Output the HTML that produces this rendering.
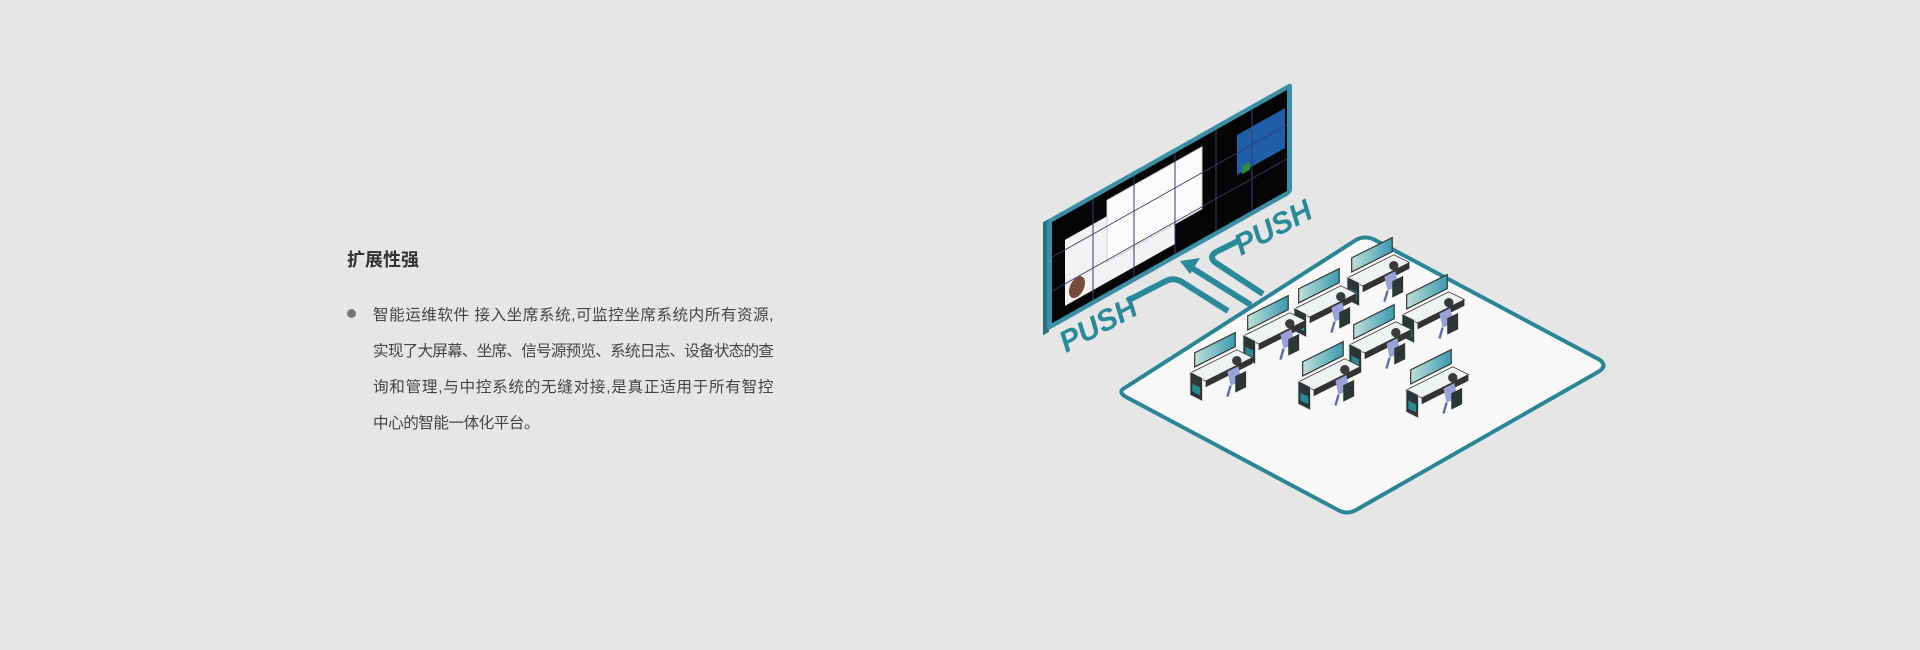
<!DOCTYPE html>
<html><head><meta charset="utf-8"><style>
html,body{margin:0;padding:0}
body{width:1920px;height:650px;background:#e6e6e6;position:relative;overflow:hidden;font-family:"Liberation Sans","Noto Sans CJK SC",sans-serif}
.t{position:absolute;left:347px;top:246px;font-size:18px;font-weight:bold;color:#333}
.b{position:absolute;left:373px;top:298px;width:400px;font-size:15.6px;line-height:36px;color:#444}
.b div{white-space:nowrap;text-align:justify;text-align-last:justify;letter-spacing:-0.5px}
.b div.l{text-align-last:left}
.b div.n{letter-spacing:-0.9px}
.dot{position:absolute;left:347px;top:309px;width:9px;height:9px;border-radius:50%;background:#777}
svg{position:absolute;left:0;top:0}
</style></head><body>
<div class="t">扩展性强</div>
<div class="dot"></div>
<div class="b"><div>智能运维软件 接入坐席系统,可监控坐席系统内所有资源,</div><div class="n">实现了大屏幕、坐席、信号源预览、系统日志、设备状态的查</div><div>询和管理,与中控系统的无缝对接,是真正适用于所有智控</div><div class="l">中心的智能一体化平台。</div></div>
<svg width="1920" height="650" viewBox="0 0 1920 650">
<defs>
<linearGradient id="mg" x1="0" x2="1"><stop offset="0" stop-color="#bfe0d8"/><stop offset="1" stop-color="#3a9ab0"/></linearGradient>
<g id="desk">
<polygon points="20,-18 80,-48 80,-40 20,-10" fill="#333"/>
<polygon points="0,-28 60,-58 80,-48 20,-18" fill="#eef2f2" stroke="#333" stroke-width="1"/>
<polygon points="6,-36 58,-62 58,-80 6,-54" fill="url(#mg)" stroke="#333" stroke-width="1.5"/>
<polygon points="0,-30 16,-22 16,8 0,0" fill="#2c3636" stroke="#ddd" stroke-width="1"/>
<rect x="3" y="-16" width="10" height="10" fill="#2a8a90" transform="skewY(26)"/>
<polygon points="48,-30 62,-37 66,-18 52,-12" fill="#9aa0d8"/>
<circle cx="60" cy="-44" r="6" fill="#3a3a3a"/>
<polygon points="58,-24 72,-31 72,-10 58,-3" fill="#2c3636"/>
<line x1="52" y1="-12" x2="48" y2="2" stroke="#5a6ab0" stroke-width="3"/>
</g>
</defs>
<path d="M1123,389 L1356,240 Q1365,235 1375,240 L1600,360 Q1608,366 1598,372 L1356,510 Q1347,515 1338,510 L1128,398 Q1118,393 1123,389 Z" fill="#f8f8f8" stroke="#2a8596" stroke-width="4"/>
<g transform="matrix(1,-0.563,0,1,1047,220)">
<rect x="-4" y="0" width="6" height="113" fill="#2a6f80"/>
<rect x="0" y="0" width="245" height="111" rx="4" fill="#3a8fa6"/>
<rect x="5" y="5" width="235" height="101" fill="#050505"/>
<rect x="18" y="30" width="110" height="66" fill="#f2f2f2"/>
<rect x="60" y="14" width="95" height="62" fill="#fafafa" stroke="#ccc"/>
<rect x="190" y="22" width="48" height="40" fill="#1f5fa8"/>
<rect x="195" y="56" width="8" height="8" fill="#2d8a3c"/>
<ellipse cx="30" cy="84" rx="8" ry="10" fill="#7a4a38"/>
<g stroke="#3a3a70" stroke-width="1">
<line x1="46" y1="5" x2="46" y2="106"/><line x1="87" y1="5" x2="87" y2="106"/><line x1="128" y1="5" x2="128" y2="106"/><line x1="169" y1="5" x2="169" y2="106"/><line x1="205" y1="5" x2="205" y2="106"/>
<line x1="5" y1="40" x2="240" y2="40"/><line x1="5" y1="74" x2="240" y2="74"/>
</g>
</g>
<g stroke="#2a8a9a" stroke-width="6" fill="none" stroke-linejoin="round">
<path d="M1127,301 L1166,281 Q1174,277 1182,282 L1228,311"/>
<path d="M1251,305 L1192,268"/>
<path d="M1263,294 L1216,263 Q1208,257 1216,252 L1240,240"/>
</g>
<polygon points="1180,261 1200,258 1190,274" fill="#2a8a9a"/>
<text transform="translate(1066,353) rotate(-28)" font-family="Liberation Sans,sans-serif" font-weight="bold" font-style="italic" font-size="30" fill="#2a8a9a">PUSH</text>
<text transform="translate(1241,256) rotate(-28)" font-family="Liberation Sans,sans-serif" font-weight="bold" font-style="italic" font-size="30" fill="#2a8a9a">PUSH</text>
<use href="#desk" transform="translate(1347,300) scale(0.78)"/>
<use href="#desk" transform="translate(1294,331) scale(0.78)"/>
<use href="#desk" transform="translate(1243,358) scale(0.78)"/>
<use href="#desk" transform="translate(1402,337) scale(0.78)"/>
<use href="#desk" transform="translate(1190,395) scale(0.78)"/>
<use href="#desk" transform="translate(1349,367) scale(0.78)"/>
<use href="#desk" transform="translate(1298,404) scale(0.78)"/>
<use href="#desk" transform="translate(1406,412) scale(0.78)"/>
</svg>
</body></html>
